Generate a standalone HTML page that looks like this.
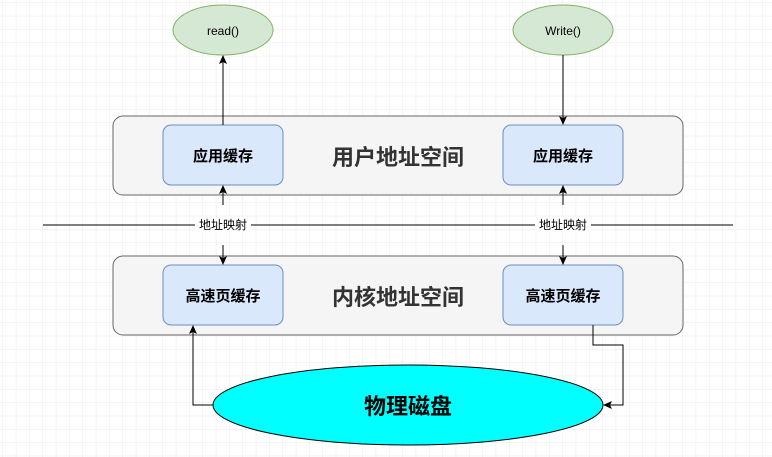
<!DOCTYPE html>
<html><head><meta charset="utf-8"><style>
html,body{margin:0;padding:0;background:#fff}
svg{display:block}
text{font-family:"Liberation Sans","Noto Sans CJK SC",sans-serif}
</style></head><body>
<svg width="772" height="457" viewBox="0 0 772 457" xmlns="http://www.w3.org/2000/svg">
<defs>
<pattern id="g" width="13.33" height="13.33" patternUnits="userSpaceOnUse" x="3" y="3">
<path d="M13.33 0V13.33H0" fill="none" stroke="#e8e8e8" stroke-width="1"/>
</pattern>
<marker id="a" markerWidth="10" markerHeight="10" refX="8" refY="5" orient="auto" markerUnits="userSpaceOnUse">
<path d="M0,1 L9,5 L0,9 L2,5 Z" fill="#000"/>
</marker>
</defs>
<rect width="772" height="457" fill="url(#g)"/>
<!-- ellipses top -->
<ellipse cx="223" cy="30" rx="50" ry="25" fill="#d5e8d4" stroke="#82b366"/>
<text x="223" y="35" font-size="12" text-anchor="middle">read()</text>
<ellipse cx="563" cy="30" rx="50" ry="25" fill="#d5e8d4" stroke="#82b366"/>
<text x="563" y="35" font-size="12" text-anchor="middle">Write()</text>
<!-- panels -->
<rect x="113" y="116" width="570" height="79" rx="10" fill="#f5f5f5" stroke="#666"/>
<rect x="113" y="256" width="570" height="79" rx="10" fill="#f5f5f5" stroke="#666"/>
<text x="398" y="165" font-size="22" font-weight="bold" text-anchor="middle" fill="#333">用户地址空间</text>
<text x="398" y="305" font-size="22" font-weight="bold" text-anchor="middle" fill="#333">内核地址空间</text>
<rect x="163" y="125" width="120" height="60" rx="8" fill="#dae8fc" stroke="#6c8ebf"/>
<rect x="503" y="125" width="120" height="60" rx="8" fill="#dae8fc" stroke="#6c8ebf"/>
<rect x="163" y="265" width="120" height="60" rx="8" fill="#dae8fc" stroke="#6c8ebf"/>
<rect x="503" y="265" width="120" height="60" rx="8" fill="#dae8fc" stroke="#6c8ebf"/>
<text x="223" y="161" font-size="15" font-weight="bold" text-anchor="middle">应用缓存</text>
<text x="563" y="161" font-size="15" font-weight="bold" text-anchor="middle">应用缓存</text>
<text x="223" y="301" font-size="15" font-weight="bold" text-anchor="middle">高速页缓存</text>
<text x="563" y="301" font-size="15" font-weight="bold" text-anchor="middle">高速页缓存</text>
<!-- horizontal line -->
<line x1="43" y1="225" x2="733" y2="225" stroke="#000"/>
<!-- arrows -->
<line x1="223" y1="125" x2="223" y2="56" stroke="#000" marker-end="url(#a)"/>
<line x1="563" y1="55" x2="563" y2="124" stroke="#000" marker-end="url(#a)"/>
<line x1="223" y1="205" x2="223" y2="186" stroke="#000" marker-end="url(#a)"/>
<line x1="563" y1="205" x2="563" y2="186" stroke="#000" marker-end="url(#a)"/>
<line x1="223" y1="245" x2="223" y2="264" stroke="#000" marker-end="url(#a)"/>
<line x1="563" y1="245" x2="563" y2="264" stroke="#000" marker-end="url(#a)"/>
<rect x="195" y="217" width="56" height="16" fill="#fff"/>
<rect x="535" y="217" width="56" height="16" fill="#fff"/>
<text x="223" y="229" font-size="12" text-anchor="middle">地址映射</text>
<text x="563" y="229" font-size="12" text-anchor="middle">地址映射</text>
<!-- disk -->
<ellipse cx="408" cy="405" rx="195" ry="40" fill="#00ffff" stroke="#000"/>
<text x="408" y="414" font-size="22" font-weight="bold" text-anchor="middle">物理磁盘</text>
<polyline points="213,405 193,405 193,326" fill="none" stroke="#000" marker-end="url(#a)"/>
<polyline points="593,325 593,345 623,345 623,405 604,405" fill="none" stroke="#000" marker-end="url(#a)"/>
</svg>
</body></html>
